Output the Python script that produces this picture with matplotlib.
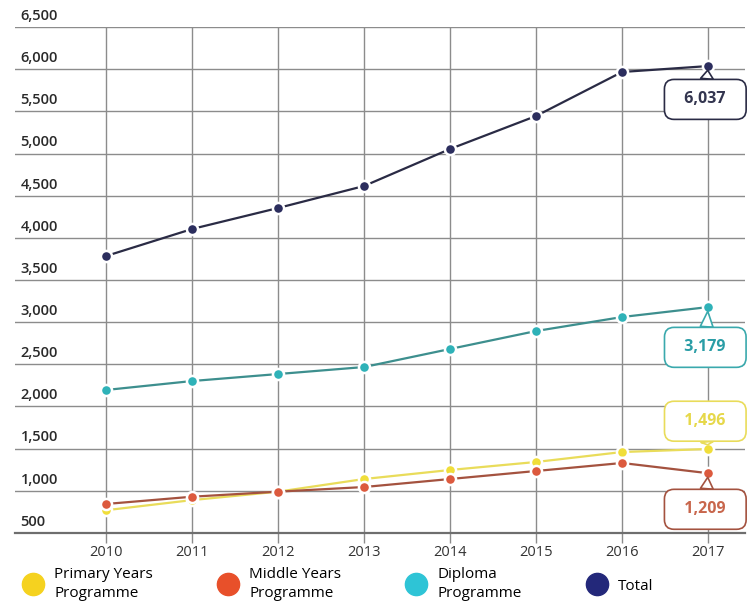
import matplotlib
matplotlib.use("Agg")
import matplotlib.pyplot as plt
import matplotlib.transforms as mtransforms
from matplotlib.lines import Line2D

plt.rcParams['font.family'] = ['Open Sans', 'DejaVu Sans']

years = [2010, 2011, 2012, 2013, 2014, 2015, 2016, 2017]
primary = [770, 890, 990, 1140, 1247, 1342, 1460, 1496]
middle = [844, 930, 990, 1045, 1140, 1235, 1330, 1209]
diploma = [2196, 2302, 2385, 2468, 2682, 2895, 3061, 3179]
total = [3785, 4105, 4354, 4615, 5054, 5445, 5967, 6037]

series_names = ["Primary Years\nProgramme", "Middle Years\nProgramme",
                "Diploma\nProgramme", "Total"]
y_ticks = [500, 1000, 1500, 2000, 2500, 3000, 3500, 4000,
           4500, 5000, 5500, 6000, 6500]

# (values, line colour, marker colour, legend colour, callout text colour)
styles = [
    (primary, "#e9dc5a", "#f0de3a", "#f5d21f", "#e6d84a"),
    (middle, "#a4523f", "#dc5a3e", "#e8502a", "#c8664c"),
    (diploma, "#3d8f8e", "#2fb2b8", "#2ec4d6", "#2a9da6"),
    (total, "#2a2b45", "#2c2e5e", "#23287a", "#33354f"),
]

fig = plt.figure(figsize=(7.55, 6.06), dpi=100)
ax = fig.add_axes([0.0199, 0.1205, 0.9669, 0.8349])

for vals, lc, mc, _, _ in styles:
    ax.plot(years, vals, color=lc, lw=1.6, zorder=3)
    ax.plot(years, vals, ls="none", marker="o", ms=8, mfc=mc,
            mec="white", mew=1.8, zorder=4)

ax.set_xlim(2008.94, 2017.43)
ax.set_ylim(500, 6500)
ax.set_xticks(years)
ax.set_yticks(y_ticks)
ax.set_yticklabels([f"{v:,}" for v in y_ticks])
ax.grid(True, color="#8c8c8c", lw=1.0, zorder=0)

for side in ["top", "right", "left"]:
    ax.spines[side].set_visible(False)
ax.spines["bottom"].set_color("#6e6e6e")
ax.spines["bottom"].set_linewidth(1.6)

ax.tick_params(axis="x", length=7, width=1.0, color="#8c8c8c",
               labelsize=10.5, labelcolor="#333333", pad=2)
ax.tick_params(axis="y", length=0, pad=-4, labelsize=10.5,
               labelcolor="#2a2a2a")
lift = mtransforms.ScaledTranslation(0, 3 / 72, fig.dpi_scale_trans)
for lab in ax.get_yticklabels():
    lab.set_horizontalalignment("left")
    lab.set_verticalalignment("bottom")
    lab.set_fontweight("semibold")
    lab.set_transform(lab.get_transform() + lift)

# value callouts on the last year
callouts = [(3, -24), (2, -29), (0, 20), (1, -26)]
for idx, dy in callouts:
    vals, lc, mc, _, tc = styles[idx]
    ec = lc if idx != 2 else "#3aa9ad"
    ax.annotate(f"  {vals[-1]:,}  ", xy=(years[-1], vals[-1]),
                xytext=(-2, dy), textcoords="offset points",
                ha="center", va="center", fontsize=11.5,
                fontweight="bold", color=tc, zorder=6,
                bbox=dict(boxstyle="round,pad=0.75,rounding_size=0.6",
                          fc="white", ec=ec, lw=1.2),
                arrowprops=dict(arrowstyle="wedge,tail_width=0.8",
                                fc="white", ec=ec, lw=1.2,
                                shrinkA=0, shrinkB=3))

handles = [Line2D([], [], ls="none", marker="o", ms=16, mfc=s[3],
                  mec=s[3]) for s in styles]
leg = fig.legend(handles, series_names, loc="lower left",
                 bbox_to_anchor=(0.005, -0.014), ncol=4, frameon=False,
                 fontsize=11, handletextpad=0.4, columnspacing=3.9,
                 labelspacing=0.2)
for t in leg.get_texts():
    t.set_linespacing(1.3)

fig.savefig("out.png", dpi=100)
